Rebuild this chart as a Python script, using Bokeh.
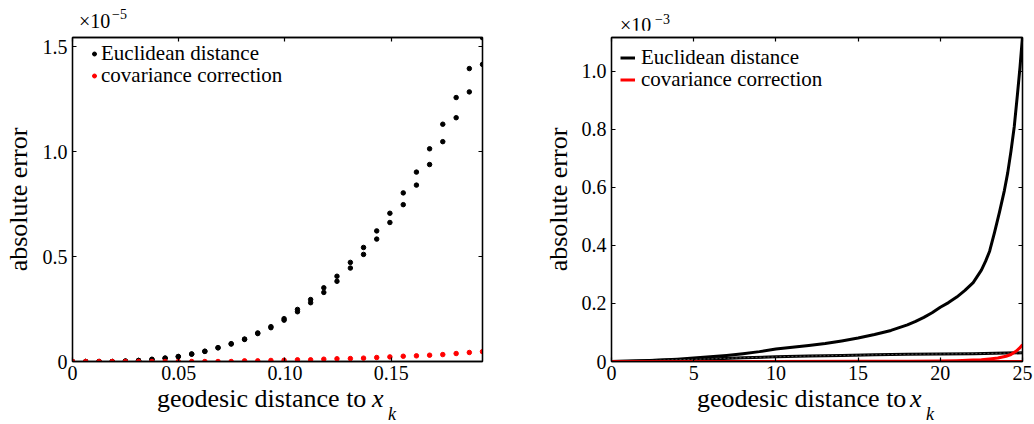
import math
from bokeh.plotting import figure
from bokeh.layouts import row, column
from bokeh.models import Range1d, LinearAxis, FixedTicker, Legend, LegendItem, Div
from bokeh.embed import file_html
from bokeh.resources import INLINE

FONT = "Liberation Serif"

# ---------------- data: left panel (values in units of 1e-5) ----------------
geo_left = [0, 0.0062, 0.0125, 0.0187, 0.0249, 0.0311, 0.0374, 0.0436, 0.0498, 0.0561,
            0.0623, 0.0685, 0.0747, 0.081, 0.0872, 0.0934, 0.0996, 0.1059, 0.1121, 0.1183,
            0.1245, 0.1308, 0.137, 0.1432, 0.1494, 0.1557, 0.1619, 0.1681, 0.1743, 0.1806,
            0.1868, 0.193]
euclid_upper = [0, 0, 0, 0, 0.002, 0.005, 0.01, 0.016, 0.024, 0.036, 0.049, 0.066, 0.085,
                0.107, 0.136, 0.166, 0.204, 0.248, 0.295, 0.351, 0.406, 0.472, 0.543, 0.622,
                0.706, 0.803, 0.902, 1.013, 1.13, 1.257, 1.395, 1.542]
euclid_lower = [0, 0, 0, 0, 0.002, 0.005, 0.01, 0.016, 0.023, 0.035, 0.048, 0.065, 0.083,
                0.105, 0.133, 0.161, 0.197, 0.237, 0.28, 0.329, 0.382, 0.445, 0.51, 0.583,
                0.662, 0.747, 0.84, 0.938, 1.047, 1.161, 1.284, 1.415]
cov_left = [0, 0, 0, 0, 0, 0, 0, 0, 0, 0, 0, 0, 0, 0.003, 0.003, 0.005, 0.006, 0.008, 0.008,
            0.011, 0.013, 0.014, 0.016, 0.019, 0.022, 0.025, 0.027, 0.030, 0.033, 0.038,
            0.043, 0.047]

left_xticks = [0, 0.05, 0.1, 0.15]
left_xlabels = ["0", "0.05", "0.10", "0.15"]
left_yticks = [0, 0.5, 1, 1.5]
left_ylabels = ["0", "0.5", "1.0", "1.5"]

# ---------------- data: right panel (values in units of 1e-3) ----------------
geo_up = [0, 1, 2, 3, 4, 5, 6, 7, 8, 9, 10, 11, 12, 13, 14, 15, 16, 17, 18, 18.5, 19, 19.5,
          20, 20.5, 21, 21.5, 22, 22.5, 22.75, 23, 23.3, 23.6, 23.9, 24.1, 24.3, 24.5, 24.7,
          24.85, 25]
euclid_up = [0, 0.001, 0.003, 0.005, 0.008, 0.012, 0.016, 0.021, 0.027, 0.034, 0.043, 0.049,
             0.055, 0.062, 0.071, 0.081, 0.093, 0.107, 0.126, 0.138, 0.152, 0.168, 0.187,
             0.203, 0.222, 0.245, 0.272, 0.315, 0.345, 0.38, 0.445, 0.515, 0.59, 0.65, 0.725,
             0.81, 0.925, 1.015, 1.12]
geo_flat = [0, 2, 4, 6, 8, 10, 12, 14, 16, 18, 20, 22, 24, 25]
euclid_flat = [0, 0.003, 0.006, 0.009, 0.013, 0.016, 0.019, 0.021, 0.023, 0.025, 0.026,
               0.027, 0.029, 0.030]
geo_cov = [0, 5, 10, 15, 18, 20, 21, 22, 22.5, 23, 23.5, 24, 24.3, 24.6, 24.8, 25]
cov_up = [0, 0, 0, 0.0005, 0.001, 0.002, 0.003, 0.005, 0.006, 0.009, 0.012, 0.018, 0.024,
          0.035, 0.045, 0.058]
cov_flat_x = [0, 25]
cov_flat = [0, 0]

right_xticks = [0, 5, 10, 15, 20, 25]
right_xlabels = ["0", "5", "10", "15", "20", "25"]
right_yticks = [0, 0.2, 0.4, 0.6, 0.8, 1]
right_ylabels = ["0", "0.2", "0.4", "0.6", "0.8", "1.0"]

Y_TITLE = "absolute error"
X_TITLE = "geodesic distance to"
LEGEND_LABELS = ["Euclidean distance", "covariance correction"]


def style_axis(ax, ticks, labels, show):
    ax.ticker = FixedTicker(ticks=ticks)
    ax.major_label_overrides = {t: (l if show else "") for t, l in zip(ticks, labels)}
    ax.axis_line_color = "black"
    ax.axis_line_width = 1.3
    ax.major_tick_line_color = "black"
    ax.major_tick_line_width = 1.2
    ax.major_tick_in = 4
    ax.major_tick_out = 0
    ax.minor_tick_line_color = None
    ax.major_label_text_font = FONT
    ax.major_label_text_font_size = "20px" if show else "0px"
    ax.major_label_text_color = "black"
    ax.major_label_standoff = 5 if show else 0


def make_fig(width, xr, yr, bl, br, bt, bb, xt, xl, yt, yl, ystand):
    p = figure(width=width, height=359, output_backend="svg", toolbar_location=None,
               x_range=Range1d(*xr), y_range=Range1d(*yr),
               min_border_left=bl, min_border_right=br, min_border_top=bt, min_border_bottom=bb)
    p.grid.visible = False
    p.outline_line_color = "black"
    p.outline_line_width = 1.3
    p.background_fill_color = "white"
    p.border_fill_color = "white"
    style_axis(p.xaxis[0], xt, xl, True)
    style_axis(p.yaxis[0], yt, yl, True)
    p.xaxis[0].major_label_standoff = 4
    p.yaxis[0].axis_label = Y_TITLE
    p.yaxis[0].axis_label_text_font = FONT
    p.yaxis[0].axis_label_text_font_size = "26px"
    p.yaxis[0].axis_label_text_font_style = "normal"
    p.yaxis[0].axis_label_text_color = "black"
    p.yaxis[0].axis_label_standoff = ystand
    top = LinearAxis()
    style_axis(top, xt, xl, False)
    p.add_layout(top, "above")
    right = LinearAxis()
    style_axis(right, yt, yl, False)
    p.add_layout(right, "right")
    return p


def add_legend_item(p, label, renderer, x, y, glyph_width, standoff):
    leg = Legend(items=[LegendItem(label=label, renderers=[renderer])],
                 location=(x, y), padding=0, margin=0, spacing=0,
                 glyph_width=glyph_width, glyph_height=21, label_height=21,
                 label_standoff=standoff, label_text_font=FONT, label_text_font_size="21px",
                 label_text_color="black", background_fill_alpha=0, border_line_alpha=0)
    p.add_layout(leg)


def exp_div(width, left, top, sup_left, sup_top, exp):
    html = (f'<div style="position:relative;width:{width}px;height:30px;'
            f'font-family:\'{FONT}\';color:#000;">'
            f'<span style="position:absolute;left:{left}px;top:{top}px;font-size:20px;'
            f'line-height:20px;white-space:nowrap;">&times;10</span>'
            f'<span style="position:absolute;left:{sup_left}px;top:{sup_top}px;font-size:14px;'
            f'line-height:14px;white-space:nowrap;">{exp}</span></div>')
    return Div(text=html, width=width, height=30, margin=0)


def xlabel_div(width, left, xleft, kleft):
    html = (f'<div style="position:relative;width:{width}px;height:35px;'
            f'font-family:\'{FONT}\';color:#000;">'
            f'<span style="position:absolute;left:{left}px;top:0px;font-size:26px;'
            f'line-height:20px;white-space:nowrap;">{X_TITLE}</span>'
            f'<span style="position:absolute;left:{xleft}px;top:0px;font-size:26px;'
            f'line-height:20px;font-style:italic;">x</span>'
            f'<span style="position:absolute;left:{kleft}px;top:16px;font-size:18px;'
            f'line-height:18px;font-style:italic;">k</span></div>')
    return Div(text=html, width=width, height=35, margin=0)


# ---------------- left panel ----------------
p1 = make_fig(520, (0, 0.193), (0, 1.543), 70, 38, 6, 28,
              left_xticks, left_xlabels, left_yticks, left_ylabels, 7)
ra = p1.scatter(geo_left, euclid_upper, size=4.5, color="black")
rb = p1.scatter(geo_left, euclid_lower, size=4.5, color="black")
rc = p1.scatter(geo_left, cov_left, size=4.5, color="red")
add_legend_item(p1, LEGEND_LABELS[0], ra, 17, 295, 10, 2)
add_legend_item(p1, LEGEND_LABELS[1], rc, 17, 273, 10, 2)

# ---------------- right panel ----------------
p2 = make_fig(514, (0, 25), (0, 1.1166), 91, 12, 7, 27,
              right_xticks, right_xlabels, right_yticks, right_ylabels, 6)
l1 = p2.line(geo_up, euclid_up, line_width=3, color="black", line_join="round")
l2 = p2.line(geo_flat, euclid_flat, line_width=3, color="black", line_join="round")
p2.line(geo_flat, euclid_flat, line_width=0.8, color="#666666", line_dash="2 2")
l3 = p2.line(cov_flat_x, cov_flat, line_width=3, color="red")
l4 = p2.line(geo_cov, cov_up, line_width=3, color="red", line_join="round")
add_legend_item(p2, LEGEND_LABELS[0], l1, 9, 291, 15, 6)
add_legend_item(p2, LEGEND_LABELS[1], l4, 9, 269, 15, 6)

top_row = row(exp_div(520, 79, 11, 112, 8, "&minus;5"),
              exp_div(514, 100, 15, 135, 13, "&minus;3"))
bottom_row = row(xlabel_div(520, 157, 372, 388),
                 xlabel_div(514, 177, 390, 406))
layout = column(top_row, row(p1, p2), bottom_row)
open("out.html", "w").write(file_html(layout, INLINE))
